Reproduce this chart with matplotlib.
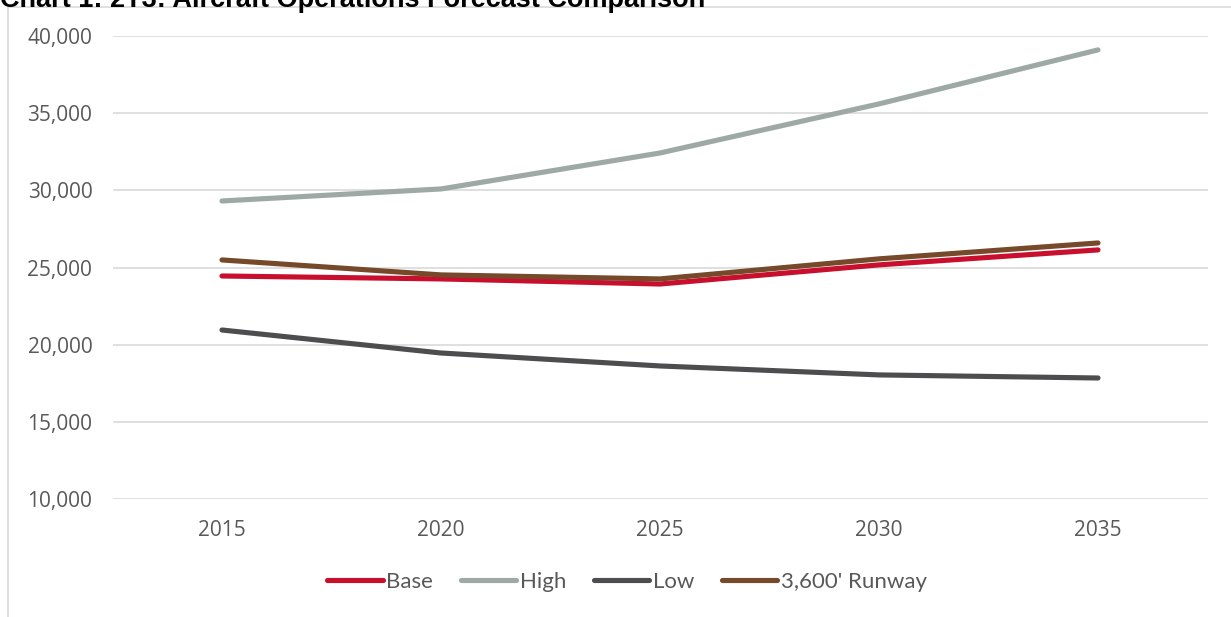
import matplotlib
matplotlib.use("Agg")
import matplotlib.pyplot as plt
from matplotlib.patches import Rectangle
from matplotlib.ticker import FuncFormatter

years = ["2015", "2020", "2025", "2030", "2035"]
base = [24450, 24260, 23930, 25170, 26140]
high = [29310, 30090, 32420, 35600, 39100]
low = [20950, 19460, 18620, 18040, 17840]
runway = [25490, 24520, 24260, 25560, 26590]
series_names = ["Base", "High", "Low", "3,600' Runway"]
colors = ["#C8102E", "#9EA9A6", "#4D4D4F", "#77492B"]
title = "Chart 1: 2T3: Aircraft Operations Forecast Comparison"

W, H = 1231, 617
fig = plt.figure(figsize=(W / 100, H / 100), dpi=100)
fig.patch.set_facecolor("white")

# chart border
fig.add_artist(Rectangle((8 / W, -0.1), 1.2, 1 - 7 / H + 0.1, transform=fig.transFigure,
                         fill=False, edgecolor="#D9D9D9", linewidth=1.2))

ax = fig.add_axes([112.5 / W, 1 - 499 / H, (1207.5 - 112.5) / W, (499 - 36) / H])
x = list(range(len(years)))
for vals, name, c in zip([base, high, low, runway], series_names, colors):
    ax.plot(x, vals, color=c, linewidth=3.7, solid_capstyle="round", label=name)

ax.set_xlim(-0.5, len(years) - 0.5)
ax.set_ylim(10000, 40000)
ax.set_yticks(range(10000, 40001, 5000))
ax.yaxis.set_major_formatter(FuncFormatter(lambda v, p: f"{int(v):,}"))
ax.set_xticks(x)
ax.set_xticklabels(years)
for s in ax.spines.values():
    s.set_visible(False)
ax.grid(axis="y", color="#D9D9D9", linewidth=1.2)
ax.set_axisbelow(True)
ax.tick_params(axis="both", length=0, labelsize=15, labelcolor="#595959")
ax.tick_params(axis="y", pad=14.5)
ax.tick_params(axis="x", pad=15)
for lab in ax.get_xticklabels() + ax.get_yticklabels():
    lab.set_fontfamily("Open Sans")

leg = fig.legend(loc="center", bbox_to_anchor=(627 / W, 1 - 582 / H), ncol=4, frameon=False,
                 handlelength=2.5, handletextpad=0.15, columnspacing=1.25,
                 prop={"family": "Lato", "size": 16})
for t in leg.get_texts():
    t.set_color("#595959")

fig.text(0.0, 1 - 7 / H, title, ha="left", va="baseline", fontsize=19.5,
         fontweight="bold", family="Liberation Sans", color="black")

fig.savefig("out.png", dpi=100)
